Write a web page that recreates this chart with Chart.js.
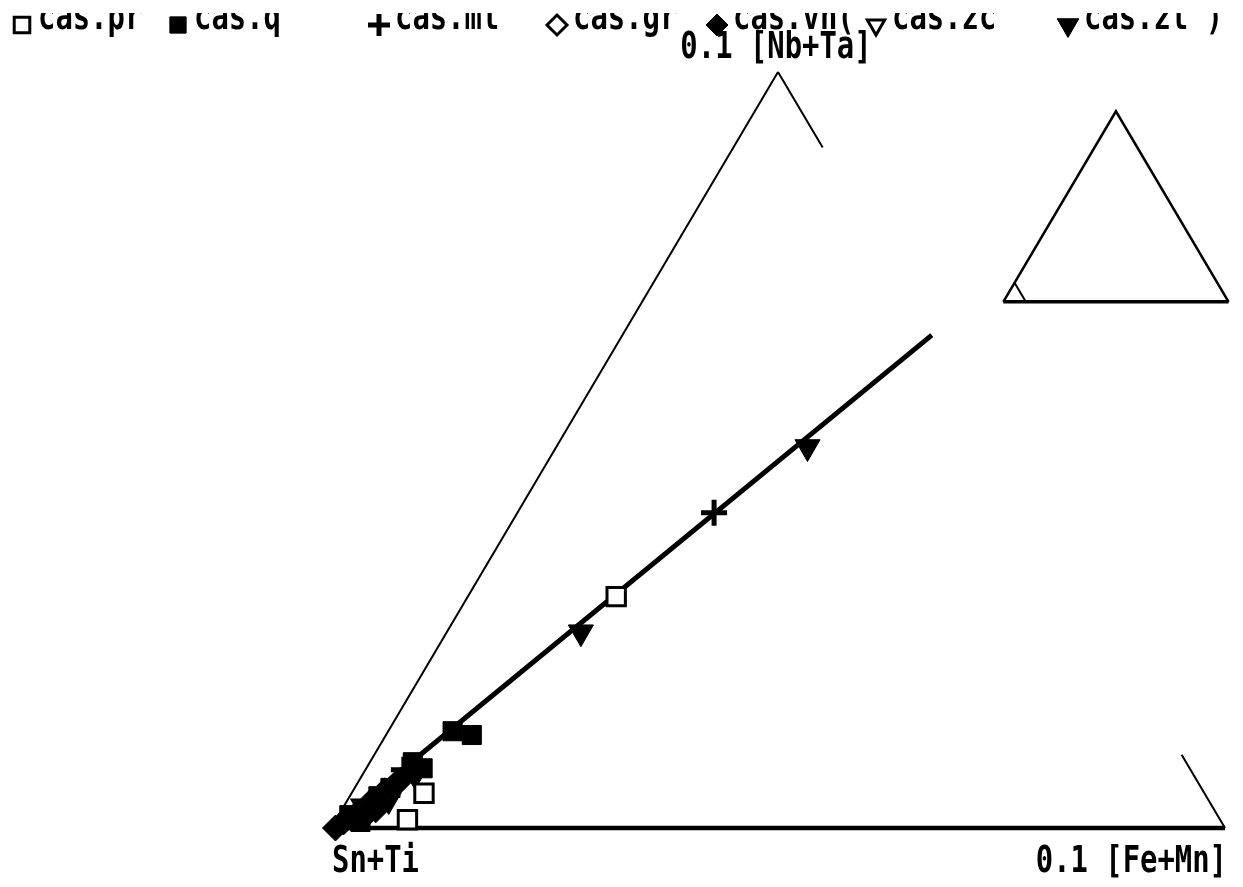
<!DOCTYPE html>
<html>
<head>
<meta charset="utf-8">
<title>Sn+Ti - Nb+Ta - Fe+Mn</title>
<script src="https://cdn.jsdelivr.net/npm/chart.js@4.4.1/dist/chart.umd.min.js"></script>
<style>
  html, body { margin: 0; padding: 0; background: #fff; overflow: hidden; }
  canvas { display: block; }
</style>
</head>
<body>
<canvas id="ternaryChart" width="1243" height="887"></canvas>
<script>
// ternary fractions: FeMn = [Fe+Mn], NbTa = [Nb+Ta], rest is Sn+Ti
// (only the corner 0..0.1 is shown)
const seriesNames = ['cas.pr', 'cas.q', 'cas.mt', 'cas.gr', 'cas.vn(', 'cas.zc', 'cas.zt )'];

const prFeMn = [0.0166, 0.0081, 0.0080];
const prNbTa = [0.0306, 0.0046, 0.0011];

const qFeMn = [0.0072, 0.0096, 0.0048, 0.0063, 0.0012, 0.0032, 0.0040, 0.0029];
const qNbTa = [0.0128, 0.0123, 0.0087, 0.0079, 0.0017, 0.0042, 0.0053, 0.0008];

const mtFeMn = [0.0220, 0.0043];
const mtNbTa = [0.0417, 0.0077];

const grFeMn = [0.0036];
const grNbTa = [0.0048];

const vnFeMn = [0.0005, 0.0010, 0.0020, 0.0032, 0.0028, 0.0043, 0.0046, 0.0038, 0.0016];
const vnNbTa = [0.0000, 0.0008, 0.0021, 0.0021, 0.0037, 0.0058, 0.0063, 0.0024, 0.0013];

const zcFeMn = [0.0021];
const zcNbTa = [0.0029];

const ztFeMn = [0.0281, 0.0150, 0.0059, 0.0046];
const ztNbTa = [0.0504, 0.0259, 0.0070, 0.0037];

// fitted trend line, start and end
const trendFeMn = [0.0, 0.0346];
const trendNbTa = [0.0, 0.0652];

// corner labels
const apexLabel = '0.1 [Nb+Ta]';
const leftLabel = 'Sn+Ti';
const rightLabel = '0.1 [Fe+Mn]';

// ternary -> plot coords
const tern = (a, b) => ({ x: a + b / 2, y: b });
const toPts = (fe, nb) => fe.map((v, i) => tern(v, nb[i]));

const styles = [
  { pointStyle: 'rect', radius: 13, fill: '#fff', bw: 3, rot: 0 },
  { pointStyle: 'rect', radius: 13.5, fill: '#000', bw: 1, rot: 0 },
  { pointStyle: 'cross', radius: 13, fill: '#000', bw: 5, rot: 0 },
  { pointStyle: 'rectRot', radius: 12, fill: '#fff', bw: 3, rot: 0 },
  { pointStyle: 'rectRot', radius: 13, fill: '#000', bw: 1, rot: 0 },
  { pointStyle: 'triangle', radius: 12, fill: '#fff', bw: 3, rot: 180 },
  { pointStyle: 'triangle', radius: 14.5, fill: '#000', bw: 1, rot: 180 }
];

const seriesData = [
  toPts(prFeMn, prNbTa), toPts(qFeMn, qNbTa), toPts(mtFeMn, mtNbTa),
  toPts(grFeMn, grNbTa), toPts(vnFeMn, vnNbTa), toPts(zcFeMn, zcNbTa),
  toPts(ztFeMn, ztNbTa)
];

const datasets = seriesNames.map((name, i) => ({
  label: name,
  data: seriesData[i],
  pointStyle: styles[i].pointStyle,
  pointRadius: styles[i].radius,
  pointRotation: styles[i].rot,
  pointBackgroundColor: styles[i].fill,
  pointBorderColor: '#000',
  pointBorderWidth: styles[i].bw,
  showLine: false,
  clip: false
}));

const lineSet = (data, width) => ({
  type: 'line',
  data: data,
  borderColor: '#000',
  borderWidth: width,
  pointRadius: 0,
  showLine: true,
  fill: false,
  clip: false
});

// trend line + triangle frame (right side only partly drawn, as in the plot)
datasets.push(lineSet(toPts(trendFeMn, trendNbTa), 5));
datasets.push(lineSet([tern(0, 0), tern(0, 0.1)], 2));
datasets.push(lineSet([tern(0, 0), tern(0.1, 0)], 4.5));
datasets.push(lineSet([tern(0.01, 0.09), tern(0, 0.1)], 2));
datasets.push(lineSet([tern(0.1, 0), tern(0.0903, 0.0097)], 2));

// small index triangle on the right, whole diagram with the 0.1 corner marked
const insetX = 0.0752, insetY = 0.0696, insetSize = 0.0252;
const inset = (a, b) => ({ x: insetX + (a + b / 2) * insetSize, y: insetY + b * insetSize });
datasets.push(lineSet([inset(0, 0), inset(0, 1), inset(1, 0)], 2.5));
datasets.push(lineSet([inset(0, 0), inset(1, 0)], 3.5));
datasets.push(lineSet([inset(0, 0.1), inset(0.1, 0)], 2));

const condensed = (ctx, text, x, y, align) => {
  ctx.save();
  ctx.translate(x, y);
  ctx.scale(0.76, 1);
  ctx.textAlign = align;
  ctx.fillText(text, 0, 0);
  ctx.restore();
};

const labelsPlugin = {
  id: 'ternaryLabels',
  afterDraw(chart) {
    const ctx = chart.ctx;
    const xs = chart.scales.x, ys = chart.scales.y;
    ctx.save();
    ctx.fillStyle = '#000';
    ctx.font = 'bold 38px "DejaVu Sans Mono", monospace';
    ctx.textBaseline = 'alphabetic';
    const apex = tern(0, 0.1);
    condensed(ctx, apexLabel, xs.getPixelForValue(apex.x) - 2, ys.getPixelForValue(apex.y) - 14, 'center');
    condensed(ctx, leftLabel, xs.getPixelForValue(0) + 1, ys.getPixelForValue(0) + 44, 'left');
    condensed(ctx, rightLabel, xs.getPixelForValue(0.1) + 2, ys.getPixelForValue(0) + 44, 'right');

    // legend row, top of it is cut off as in the scan
    const markX = [22, 178, 379, 557, 717, 876, 1068];
    ctx.save();
    ctx.beginPath();
    ctx.rect(0, 13, chart.width, 40);
    ctx.clip();
    seriesNames.forEach((name, i) => condensed(ctx, name, markX[i] + 16, 29, 'left'));
    ctx.restore();
    seriesNames.forEach((name, i) => {
      const s = styles[i];
      ctx.fillStyle = s.fill;
      ctx.strokeStyle = '#000';
      ctx.lineWidth = s.bw;
      Chart.helpers.drawPoint(ctx, { pointStyle: s.pointStyle, radius: s.radius - 2, rotation: s.rot, borderWidth: s.bw }, markX[i], 25);
    });
    ctx.restore();
  }
};

new Chart(document.getElementById('ternaryChart'), {
  type: 'scatter',
  data: { datasets: datasets },
  options: {
    responsive: false,
    animation: false,
    events: [],
    layout: { padding: { left: 331, right: 11, top: 72, bottom: 59 } },
    scales: {
      x: { type: 'linear', min: 0, max: 0.1, display: false },
      y: { type: 'linear', min: 0, max: 0.1, display: false }
    },
    plugins: {
      legend: { display: false },
      tooltip: { enabled: false }
    }
  },
  plugins: [labelsPlugin]
});
</script>
</body>
</html>
